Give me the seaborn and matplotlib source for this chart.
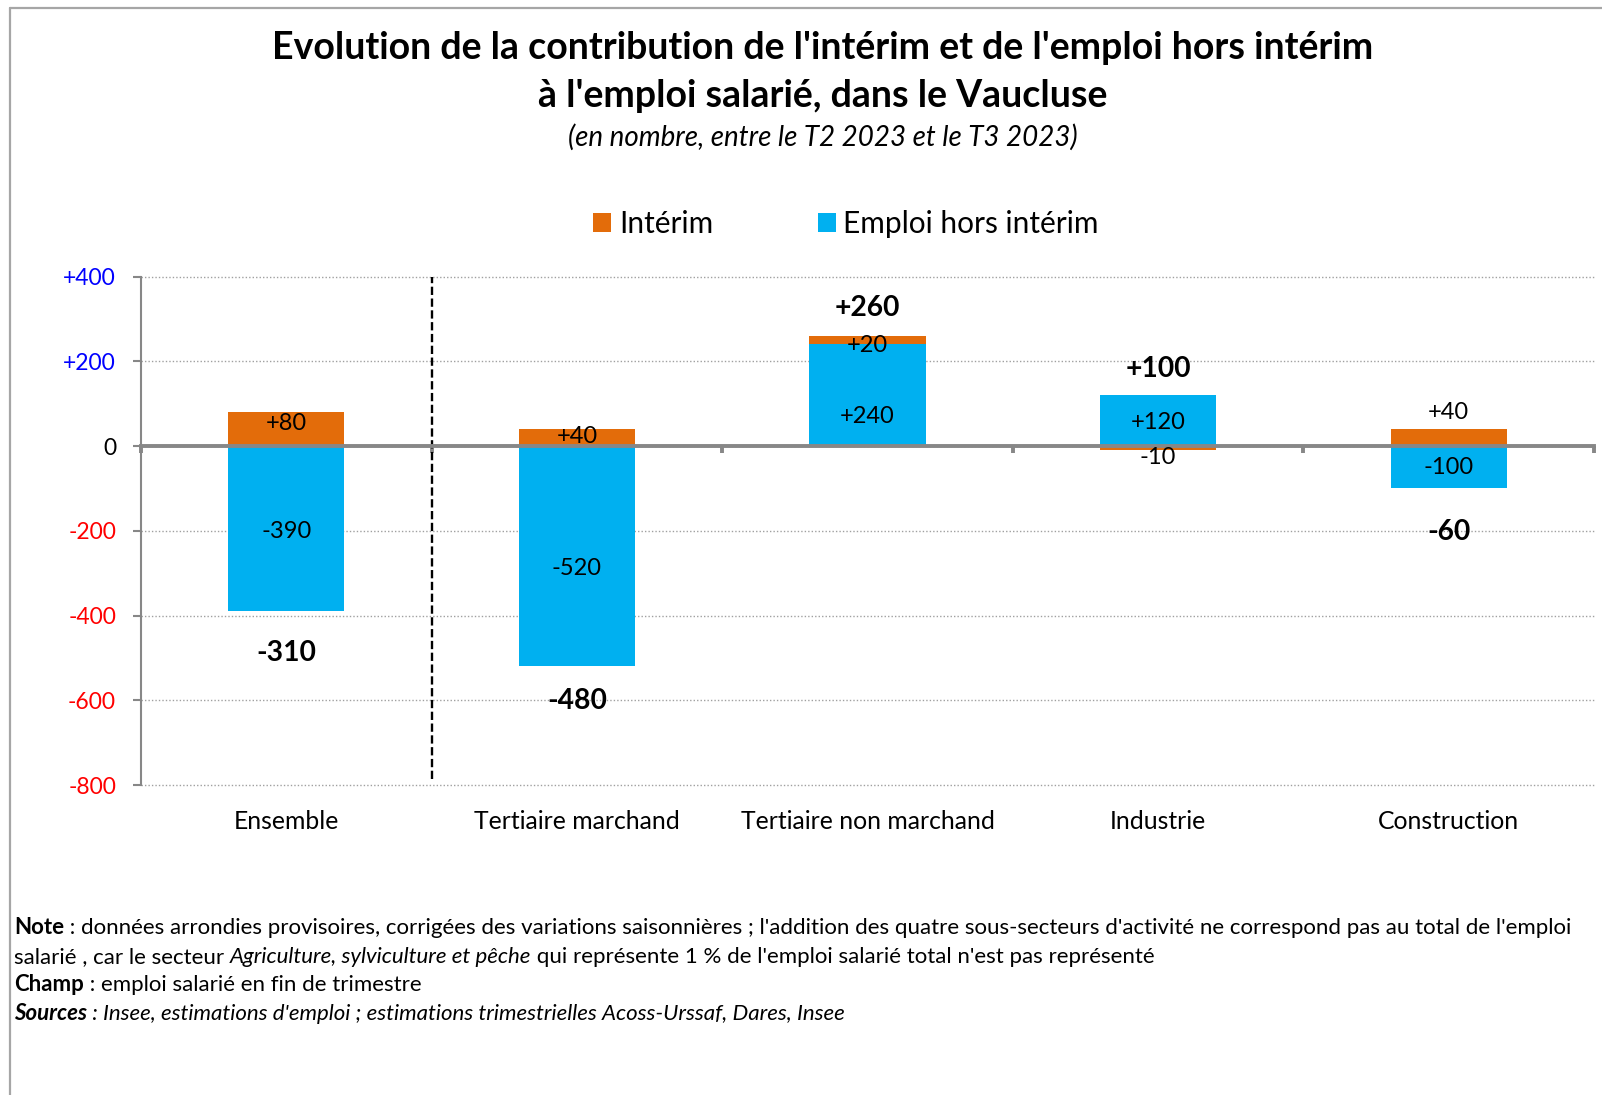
import numpy as np
import matplotlib
matplotlib.use("Agg")
import matplotlib.pyplot as plt
from matplotlib.lines import Line2D
import seaborn as sns

# ---------------- data ----------------
categories = ["Ensemble", "Tertiaire marchand", "Tertiaire non marchand", "Industrie", "Construction"]
interim = [80, 40, 20, -10, 40]
hors_interim = [-390, -520, 240, 120, -100]
totals = [-310, -480, 260, 100, -60]
series_names = ["Intérim", "Emploi hors intérim"]
y_ticks = [400, 200, 0, -200, -400, -600, -800]

title_l1 = "Evolution de la contribution de l'intérim et de l'emploi hors intérim"
title_l2 = "à l'emploi salarié, dans le Vaucluse"
subtitle = "(en nombre, entre le T2 2023 et le T3 2023)"

notes = [
    [("Note", "bold", "normal"), (" : données arrondies provisoires, corrigées des variations saisonnières ; l'addition des quatre sous-secteurs d'activité ne correspond pas au total de l'emploi", "normal", "normal")],
    [("salarié , car le secteur ", "normal", "normal"), ("Agriculture, sylviculture et pêche", "normal", "italic"), (" qui représente 1 % de l'emploi salarié total n'est pas représenté", "normal", "normal")],
    [("Champ", "bold", "normal"), (" : emploi salarié en fin de trimestre", "normal", "normal")],
    [("Sources", "bold", "italic"), (" : Insee, estimations d'emploi ; estimations trimestrielles Acoss-Urssaf, Dares, Insee", "normal", "italic")],
]

# label nudges (points, positive = downward), style only
hi_nudge = [2, 9, 15, 1, 0]
it_nudge = [-4, -1, 4, 7, -18]
tot_nudge = [4, -1, 2, 3, 5]

# ---------------- style ----------------
sns.set_style("white")
plt.rcParams["font.family"] = ["Lato", "DejaVu Sans"]
plt.rcParams["axes.unicode_minus"] = False
for k in ["text.color", "axes.labelcolor", "xtick.color", "ytick.color"]:
    plt.rcParams[k] = "black"

ORANGE = "#E36C0A"
BLUE = "#00B0F0"
GRAY = "#878787"

W, H = 1602, 1095
fig = plt.figure(figsize=(W / 100, H / 100), dpi=100)
ax = fig.add_axes([141 / W, 1 - 785 / H, (1594 - 141) / W, (785 - 276.7) / H])

hi = np.array(hors_interim, dtype=float)
it = np.array(interim, dtype=float)
same_sign = np.sign(it) == np.sign(hi)
it_bottom = np.where(same_sign, hi, 0.0)

sns.barplot(x=categories, y=hi, color=BLUE, width=0.4, errorbar=None, ax=ax,
            label=series_names[1], saturation=1, linewidth=0, zorder=2)
sns.barplot(x=categories, y=it, bottom=it_bottom, color=ORANGE, width=0.4, errorbar=None, ax=ax,
            label=series_names[0], saturation=1, linewidth=0, zorder=2)
if ax.get_legend() is not None:
    ax.get_legend().remove()

ax.set_ylim(y_ticks[-1], y_ticks[0])
ax.set_xlim(-0.5, len(categories) - 0.5)

# y axis
ax.set_yticks(y_ticks)
ax.set_yticklabels([("0" if v == 0 else f"{v:+d}") for v in y_ticks])
for lab, v in zip(ax.get_yticklabels(), y_ticks):
    lab.set_color("#0000FF" if v > 0 else ("#FF0000" if v < 0 else "black"))
ax.tick_params(axis="y", which="major", direction="out", length=6, width=1.5,
               color=GRAY, labelsize=16.5, pad=12, left=True)
ax.spines["left"].set_color(GRAY)
ax.spines["left"].set_linewidth(1.5)
ax.spines["top"].set_visible(False)
ax.spines["right"].set_visible(False)

# zero line as bottom spine, boundary ticks hanging down
ax.spines["bottom"].set_position(("data", 0))
ax.spines["bottom"].set_color(GRAY)
ax.spines["bottom"].set_linewidth(2.8)
ax.spines["bottom"].set_zorder(4)
ax.set_xticks(range(len(categories)))
ax.set_xticklabels([])
ax.set_xticks(np.arange(-0.5, len(categories), 1.0), minor=True)
ax.tick_params(axis="x", which="major", length=0, bottom=False)
ax.tick_params(axis="x", which="minor", direction="out", length=5, width=2.8, color=GRAY, bottom=True)
ax.set_xlabel("")

# category labels at the bottom
sec = ax.secondary_xaxis(0.0)
sec.set_xticks(range(len(categories)))
sec.set_xticklabels(categories)
sec.tick_params(axis="x", length=0, labelsize=17.8, pad=18)
sec.spines["bottom"].set_visible(False)

# grid
ax.set_axisbelow(True)
ax.yaxis.grid(True, linestyle=(0, (1, 1.5)), color="#A0A0A0", linewidth=1.0)
for gl in ax.get_ygridlines():
    gl.set_clip_on(False)
ax.xaxis.grid(False)

# separator line after "Ensemble"
ax.axvline(0.5, ymin=0.012, ymax=1.0, color="black", linewidth=1.7,
           linestyle=(0, (3.5, 1.5)), zorder=3)

# segment labels
for i in range(len(categories)):
    ax.annotate(f"{int(hi[i]):+d}", xy=(i, hi[i] / 2), xytext=(0, -hi_nudge[i]),
                textcoords="offset points", ha="center", va="center", fontsize=17, zorder=6)
    ax.annotate(f"{int(it[i]):+d}", xy=(i, it_bottom[i] + it[i] / 2), xytext=(0, -it_nudge[i]),
                textcoords="offset points", ha="center", va="center", fontsize=17, zorder=6)

# total labels
pos_top = np.where(hi > 0, hi, 0) + np.where(it > 0, it, 0)
neg_bot = np.where(hi < 0, hi, 0) + np.where(it < 0, it, 0)
for i, t in enumerate(totals):
    ref = pos_top[i] if t > 0 else neg_bot[i]
    off = (22 if t > 0 else -26) - tot_nudge[i]
    ax.annotate(f"{t:+d}", xy=(i, ref), xytext=(0, off), textcoords="offset points",
                ha="center", va="center", fontsize=20.3, fontweight="bold", zorder=6)

# legend
handles, labels = ax.get_legend_handles_labels()
order = [labels.index(series_names[0]), labels.index(series_names[1])]
fig.legend([handles[k] for k in order], [labels[k] for k in order],
           loc="center", bbox_to_anchor=(846 / W, 1 - 224 / H), ncol=2, frameon=False,
           fontsize=21.5, handlelength=0.6, handleheight=0.6, handletextpad=0.25,
           columnspacing=3.5)

# titles
fig.text(823 / W, 1 - 48 / H, title_l1, ha="center", va="center", fontsize=27, fontweight="bold")
fig.text(823 / W, 1 - 96 / H, title_l2, ha="center", va="center", fontsize=27, fontweight="bold")
fig.text(823 / W, 1 - 137 / H, subtitle, ha="center", va="center", fontsize=20, style="italic")

# notes
fig.canvas.draw()
renderer = fig.canvas.get_renderer()
y0 = 928
for li, parts in enumerate(notes):
    x = 14 / W
    y = 1 - (y0 + li * 28.7 + 6) / H
    for txt, weight, style in parts:
        t = fig.text(x, y, txt, ha="left", va="baseline", fontsize=16, fontweight=weight, style=style)
        bb = t.get_window_extent(renderer=renderer)
        x += bb.width / W

# frame border (left and top)
fig.add_artist(Line2D([10 / W, 10 / W], [0, 1 - 8 / H], color="#A6A6A6", linewidth=1.6))
fig.add_artist(Line2D([10 / W, 1], [1 - 8 / H, 1 - 8 / H], color="#A6A6A6", linewidth=1.6))

fig.savefig("out.png", dpi=100)
